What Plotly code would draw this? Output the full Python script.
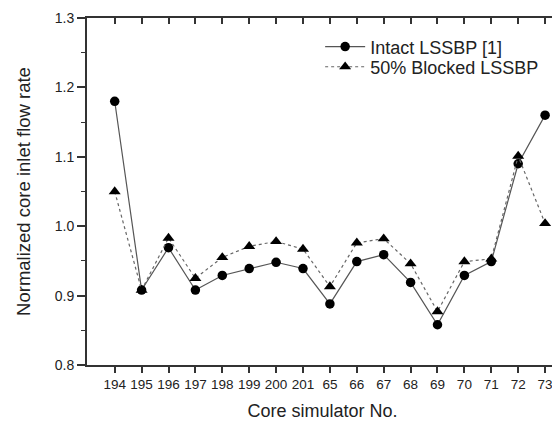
import plotly.graph_objects as go

categories = ["194", "195", "196", "197", "198", "199", "200", "201",
              "65", "66", "67", "68", "69", "70", "71", "72", "73"]
intact = [1.18, 0.908, 0.969, 0.908, 0.929, 0.939, 0.948, 0.939,
          0.888, 0.949, 0.959, 0.919, 0.858, 0.929, 0.949, 1.09, 1.16]
blocked = [1.05, 0.908, 0.983, 0.925, 0.955, 0.971, 0.978, 0.967,
           0.913, 0.976, 0.982, 0.946, 0.877, 0.949, 0.953, 1.101, 1.004]
y_ticks = [0.8, 0.9, 1.0, 1.1, 1.2, 1.3]

xs = list(range(len(categories)))
FONT = "Liberation Sans, Arial, sans-serif"
AX = "#333333"
TXT = "#222222"

fig = go.Figure()
fig.add_trace(go.Scatter(
    x=xs, y=intact, mode="lines+markers", name="Intact LSSBP [1]",
    line=dict(color="#555555", width=1.2, dash="solid"),
    marker=dict(symbol="circle", size=9.5, color="black"),
    legend="legend",
))
fig.add_trace(go.Scatter(
    x=xs, y=blocked, mode="lines+markers", name="50% Blocked LSSBP",
    line=dict(color="#666666", width=1.2, dash="dot"),
    marker=dict(symbol="triangle-up", size=10.5, color="black"),
    legend="legend2",
))

xr = [-1.03, 16.48]
yr = [0.8, 1.3]

leg_common = dict(xanchor="left", yanchor="top", bgcolor="rgba(0,0,0,0)",
                  font=dict(size=18, family=FONT, color=TXT), itemwidth=40)

# page body has an 8px margin, so the figure is sized to fill the 560x421 window
fig.update_layout(
    width=552, height=413,
    margin=dict(l=79, r=2, t=10, b=56, autoexpand=False),
    paper_bgcolor="white", plot_bgcolor="white",
    font=dict(family=FONT, color=TXT),
    showlegend=True,
    legend=dict(x=0.495, y=0.97, **leg_common),
    legend2=dict(x=0.495, y=0.912, **leg_common),
    xaxis=dict(
        range=xr, tickmode="array", tickvals=xs, ticktext=categories,
        ticks="outside", ticklen=6, tickwidth=1.5, tickcolor=AX,
        showline=True, linecolor=AX, linewidth=2, showgrid=False, zeroline=False,
        tickfont=dict(size=13.5, family=FONT, color=TXT), automargin=False,
        title=dict(text="Core simulator No.", font=dict(size=18, family=FONT, color=TXT), standoff=13),
    ),
    yaxis=dict(
        range=yr, tickmode="array", tickvals=y_ticks, ticktext=[f"{v:.1f}" for v in y_ticks],
        ticks="outside", ticklen=8, tickwidth=1.5, tickcolor=AX,
        minor=dict(dtick=0.05, tick0=0.75, ticks="outside", ticklen=4, tickwidth=1.2, tickcolor=AX, showgrid=False),
        showline=True, linecolor=AX, linewidth=2, showgrid=False, zeroline=False,
        tickfont=dict(size=14, family=FONT, color=TXT), automargin=False,
        title=dict(text="Normalized core inlet flow rate", font=dict(size=18.5, family=FONT, color=TXT), standoff=19),
    ),
    xaxis2=dict(
        range=xr, overlaying="x", side="top", tickmode="array", tickvals=xs,
        ticks="inside", ticklen=6, tickwidth=1.5, tickcolor=AX, showticklabels=False,
        showline=True, linecolor=AX, linewidth=2, showgrid=False, zeroline=False,
    ),
    yaxis2=dict(
        range=yr, overlaying="y", side="right", tickmode="array", tickvals=y_ticks,
        ticks="inside", ticklen=6, tickwidth=1.5, tickcolor=AX, showticklabels=False,
        minor=dict(dtick=0.05, tick0=0.75, ticks="inside", ticklen=4, tickwidth=1.2, tickcolor=AX, showgrid=False),
        showline=True, linecolor=AX, linewidth=2, showgrid=False, zeroline=False,
    ),
)
# invisible trace to activate the mirrored axes
fig.add_trace(go.Scatter(x=[xs[0]], y=[intact[0]], xaxis="x2", yaxis="y2",
                         mode="markers", marker=dict(opacity=0), showlegend=False, hoverinfo="skip"))

fig.write_html("out.html")
